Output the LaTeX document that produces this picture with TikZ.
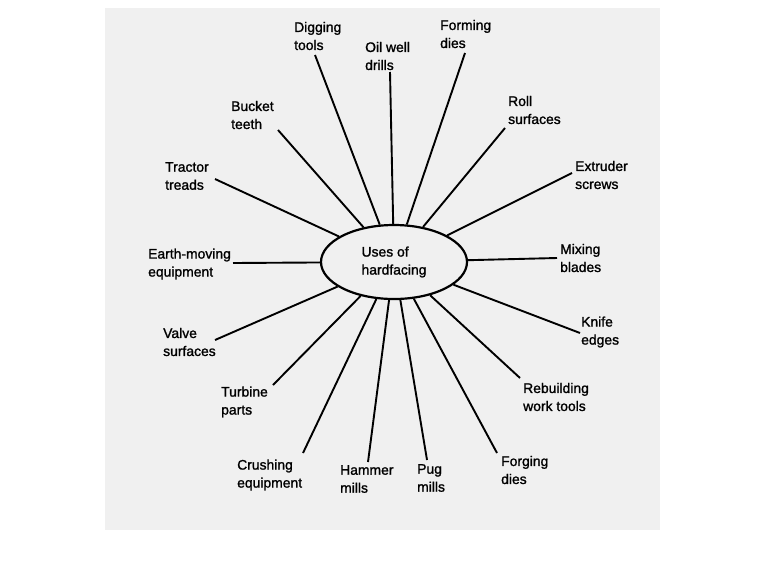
\documentclass[tikz,border=0pt]{standalone}
\usepackage{fontspec}
\setmainfont{Liberation Sans}
\newfontfamily\labelfont[FakeBold=1.3]{Liberation Sans}
\usetikzlibrary{shapes.geometric}

\begin{document}
\begin{tikzpicture}[x=1pt, y=-1pt,
  hub/.style={ellipse, draw, line width=2.2pt, minimum width=146pt,
    minimum height=74pt, inner sep=0pt, align=left,
    font=\labelfont\fontsize{13.9}{18}\selectfont},
  use/.style={anchor=west, align=left, inner sep=0pt,
    font=\labelfont\fontsize{13.9}{18}\selectfont},
  spoke/.style={line width=1.9pt},
]
\useasboundingbox (0,0) rectangle (767,576);

% Paper
\fill[black!6] (105,8) rectangle (660,530);

% Centre
\node[hub] (hub) at (394, 262) {Uses of\\hardfacing};

% Uses, clockwise from the left
\node[use] (earth) at (148, 264) {Earth-moving\\equipment};
\node[use] (tractor) at (165, 176) {Tractor\\treads};
\node[use] (bucket) at (231, 115) {Bucket\\teeth};
\node[use] (digging) at (294, 36) {Digging\\tools};
\node[use] (oilwell) at (365, 56) {Oil well\\drills};
\node[use] (forming) at (440, 34) {Forming\\dies};
\node[use] (roll) at (508, 110) {Roll\\surfaces};
\node[use] (extruder) at (575, 175) {Extruder\\screws};
\node[use] (mixing) at (560, 258) {Mixing\\blades};
\node[use] (knife) at (581, 332) {Knife\\edges};
\node[use] (rebuild) at (523, 397) {Rebuilding\\work tools};
\node[use] (forging) at (501, 470) {Forging\\dies};
\node[use] (pug) at (417, 478) {Pug\\mills};
\node[use] (hammer) at (340, 479) {Hammer\\mills};
\node[use] (crushing) at (237, 475) {Crushing\\equipment};
\node[use] (turbine) at (221, 402) {Turbine\\parts};
\node[use] (valve) at (163, 342) {Valve\\surfaces};

% Spoke ends
\coordinate (earth-end) at (233, 263);
\coordinate (tractor-end) at (215, 179);
\coordinate (bucket-end) at (278, 130);
\coordinate (digging-end) at (315, 55);
\coordinate (oilwell-end) at (390, 72);
\coordinate (forming-end) at (465, 53);
\coordinate (roll-end) at (505, 128);
\coordinate (extruder-end) at (572, 173);
\coordinate (mixing-end) at (557, 258);
\coordinate (knife-end) at (580, 333);
\coordinate (rebuild-end) at (520, 378);
\coordinate (forging-end) at (497, 453);
\coordinate (pug-end) at (427, 460);
\coordinate (hammer-end) at (368, 462);
\coordinate (crushing-end) at (303, 453);
\coordinate (turbine-end) at (273, 385);
\coordinate (valve-end) at (215, 340);

% Spokes
\draw[spoke] (hub) -- (earth-end);
\draw[spoke] (hub) -- (tractor-end);
\draw[spoke] (hub) -- (bucket-end);
\draw[spoke] (hub) -- (digging-end);
\draw[spoke] (hub) -- (oilwell-end);
\draw[spoke] (hub) -- (forming-end);
\draw[spoke] (hub) -- (roll-end);
\draw[spoke] (hub) -- (extruder-end);
\draw[spoke] (hub) -- (mixing-end);
\draw[spoke] (hub) -- (knife-end);
\draw[spoke] (hub) -- (rebuild-end);
\draw[spoke] (hub) -- (forging-end);
\draw[spoke] (hub) -- (pug-end);
\draw[spoke] (hub) -- (hammer-end);
\draw[spoke] (hub) -- (crushing-end);
\draw[spoke] (hub) -- (turbine-end);
\draw[spoke] (hub) -- (valve-end);

\end{tikzpicture}
\end{document}
